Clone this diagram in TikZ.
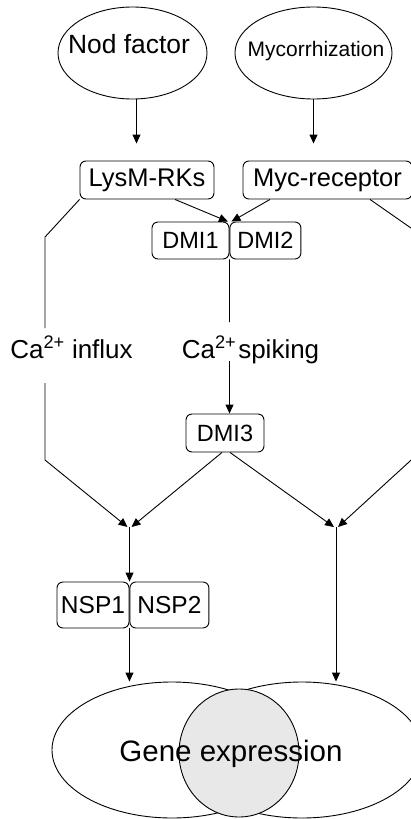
\documentclass[tikz,border=0pt]{standalone}
\usepackage{fontspec}
\setmainfont{Liberation Sans}
\usetikzlibrary{arrows.meta, positioning, shapes.geometric}

\begin{document}
\begin{tikzpicture}[
    x=1pt, y=-1pt,
    line width=0.9pt,
    block/.style={
        draw,
        rounded corners=6pt,
        inner sep=0pt,
        minimum height=38pt,
        font=\fontsize{25.5}{30}\selectfont
    },
    dmiblock/.style={block, minimum height=37pt, font=\fontsize{23.5}{28}\selectfont},
    nspblock/.style={block, minimum height=46pt, font=\fontsize{24.5}{29}\selectfont},
    signal/.style={draw, ellipse, inner sep=0pt},
    lbl/.style={inner sep=0pt, anchor=base, font=\fontsize{26}{31}\selectfont},
    arrow/.style={-{Triangle[length=9pt, width=8pt]}}
]
\useasboundingbox (0,0) rectangle (411,819);

% signals
\node[signal, minimum width=149pt, minimum height=92pt] (nod) at (132.5,53) {};
\node[lbl, font=\fontsize{26.4}{31}\selectfont] (nodtxt) at (129,53) {Nod factor};
\node[signal, minimum width=157pt, minimum height=92pt] (mycz) at (313.5,53) {};
\node[lbl, font=\fontsize{21}{25}\selectfont] (mycztxt) at (316,56) {Mycorrhization};

% receptors and common pathway
\node[block, minimum width=134pt] (lysm) at (147,180) {LysM-RKs};
\node[block, minimum width=169pt] (mycr) at (327.5,180) {Myc-receptor};
\node[dmiblock, minimum width=77pt] (dmi1) at (190.5,240.5) {DMI1};
\node[dmiblock, minimum width=71pt, right=0pt of dmi1] (dmi2) {DMI2};
\node[dmiblock, minimum width=78pt, minimum height=38pt] (dmi3) at (225,433) {DMI3};
\node[nspblock, minimum width=72pt] (nsp1) at (93,605) {NSP1};
\node[nspblock, minimum width=79pt, right=0pt of nsp1] (nsp2) {NSP2};

\node[lbl] (cain) at (71.5,358) {Ca\textsuperscript{2+} influx};
\node[lbl] (caspk) at (250.5,358) {Ca\textsuperscript{2+}\kern2pt spiking};

% output
\node[signal, minimum width=240pt, minimum height=136pt] (exprL) at (172,750) {};
\node[signal, minimum width=240pt, minimum height=136pt] (exprR) at (302,750) {};
\node[draw, ellipse, fill=black!9, inner sep=0pt, minimum width=120pt, minimum height=128pt] (core) at (239,753) {};
\node[lbl, font=\fontsize{29.5}{35}\selectfont] (gene) at (231,761) {Gene expression};

\coordinate (bendL) at (45,237);
\coordinate (gapLt) at (45,328);
\coordinate (gapLb) at (45,383);
\coordinate (kneeL) at (45,460);
\coordinate (gapMt) at (229.5,322);
\coordinate (gapMb) at (229.5,361);
\coordinate (bendR) at (421,235);
\coordinate (kneeR) at (421,451);
\coordinate (mergeL) at (129.5,527);
\coordinate (mergeR) at (336,527);

\draw[arrow, shorten >=17pt] ([xshift=4pt]nod.south) -- ([xshift=4pt]nod.south |- lysm.north);
\draw[arrow, shorten >=17pt] (mycz.south) -- (mycz.south |- mycr.north);
\draw[arrow] ([xshift=28pt]lysm.south) -- ([xshift=-1.5pt]dmi1.north east);
\draw[arrow] ([xshift=-57.5pt]mycr.south) -- ([xshift=2pt]dmi2.north west);

\draw (lysm.south west) -- (bendL) -- (gapLt);
\draw[arrow] (gapLb) -- (kneeL) -- ([xshift=-2pt]mergeL);
\draw (dmi1.south east) -- (gapMt);
\draw[arrow] (gapMb) -- (dmi3.north -| gapMb);
\draw[arrow] ([xshift=-3pt]dmi3.south) -- ([xshift=2pt]mergeL);
\draw[arrow] ([xshift=5pt]dmi3.south) -- ([xshift=-2pt]mergeR);
\draw[arrow] ([xshift=42.5pt]mycr.south) -- (bendR) -- (kneeR) -- ([xshift=2pt]mergeR);

\draw[arrow] (mergeL) -- (mergeL |- nsp1.north);
\draw[arrow] (nsp1.south east) -- (nsp1.south east |- exprL.north);
\draw[arrow] (mergeR) -- (mergeR |- exprR.north);
\end{tikzpicture}
\end{document}
